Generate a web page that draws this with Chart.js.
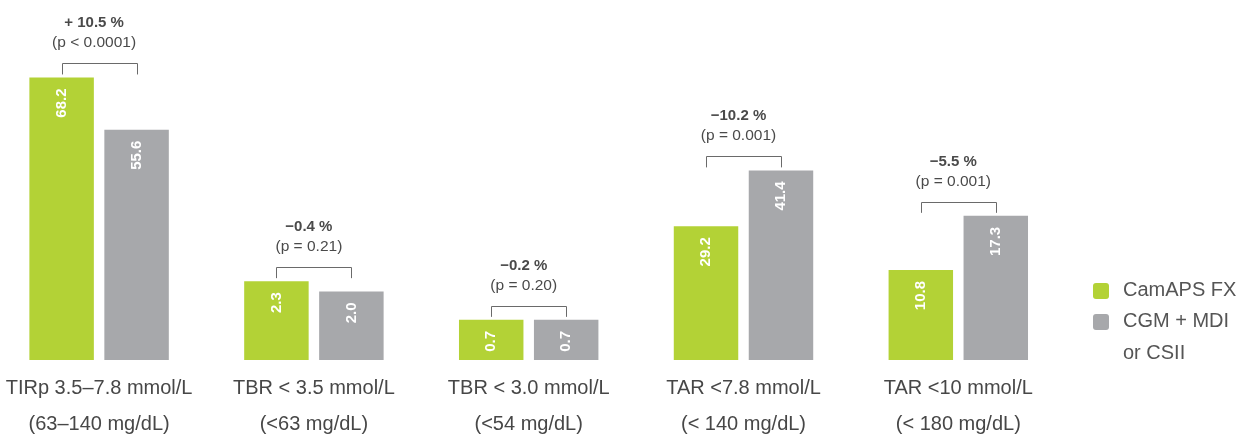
<!DOCTYPE html>
<html><head><meta charset="utf-8">
<script src="https://cdn.jsdelivr.net/npm/chart.js@4"></script>
<style>
html,body{margin:0;padding:0;background:#fff;overflow:hidden;width:1252px;height:437px;}
#wrap{position:absolute;left:-10px;top:0;width:1262px;height:452px;}
.leg{position:absolute;font-family:"Liberation Sans",Arial,sans-serif;font-size:20px;color:#555;line-height:20px;white-space:nowrap}
.sw{position:absolute;width:16px;height:16px;border-radius:3px}
</style></head><body>
<div id="wrap"><canvas id="c"></canvas></div>
<div class="sw" style="left:1093px;top:283px;background:#b3d236"></div>
<div class="leg" style="left:1123px;top:279px">CamAPS FX</div>
<div class="sw" style="left:1093px;top:314px;background:#a7a8ab"></div>
<div class="leg" style="left:1123px;top:310px">CGM + MDI</div>
<div class="leg" style="left:1123px;top:342px">or CSII</div>
<script>
const categories = [
  ["TIRp 3.5–7.8 mmol/L", "(63–140 mg/dL)"],
  ["TBR < 3.5 mmol/L", "(<63 mg/dL)"],
  ["TBR < 3.0 mmol/L", "(<54 mg/dL)"],
  ["TAR <7.8 mmol/L", "(< 140 mg/dL)"],
  ["TAR <10 mmol/L", "(< 180 mg/dL)"]
];
const seriesNames = ["CamAPS FX", "CGM + MDI or CSII"];
const camaps = [68.2, 2.3, 0.7, 29.2, 10.8];
const cgm = [55.6, 2.0, 0.7, 41.4, 17.3];
const diffs = ["+ 10.5 %", "−0.4 %", "−0.2 %", "−10.2 %", "−5.5 %"];
const pvals = ["(p < 0.0001)", "(p = 0.21)", "(p = 0.20)", "(p = 0.001)", "(p = 0.001)"];
// each panel uses its own (hidden) value axis, as in the original figure
const axisMax = [86.9, 10.5, 6.28, 78.6, 43.2];

const GREEN = "#b3d236", GRAY = "#a7a8ab";
const FONT = '"Liberation Sans", Arial, sans-serif';

const datasets = [];
const scales = {
  x: {
    offset: true,
    grid: {display: false, drawTicks: false},
    border: {display: false},
    ticks: {color: "#474747", font: {family: FONT, size: 20, lineHeight: 1.8}, padding: 10, maxRotation: 0, autoSkip: false}
  }
};
categories.forEach((c, g) => {
  const a = categories.map((_, i) => i === g ? camaps[i] : null);
  const b = categories.map((_, i) => i === g ? cgm[i] : null);
  datasets.push({label: seriesNames[0], data: a, backgroundColor: GREEN, yAxisID: "y" + g, skipNull: true});
  datasets.push({label: seriesNames[1], data: b, backgroundColor: GRAY, yAxisID: "y" + g, skipNull: true});
  scales["y" + g] = {display: false, min: 0, max: axisMax[g]};
});

const annot = {
  id: "annot",
  afterDatasetsDraw(chart) {
    const ctx = chart.ctx;
    categories.forEach((c, g) => {
      const e1 = chart.getDatasetMeta(2 * g).data[g];
      const e2 = chart.getDatasetMeta(2 * g + 1).data[g];
      const vals = [camaps[g], cgm[g]];
      [e1, e2].forEach((e, k) => {
        ctx.save();
        ctx.translate(e.x, e.y + 11);
        ctx.rotate(-Math.PI / 2);
        ctx.fillStyle = "#fff";
        ctx.font = "bold 15px " + FONT;
        ctx.textAlign = "right";
        ctx.textBaseline = "middle";
        ctx.fillText(vals[k].toFixed(1), 0, 0);
        ctx.restore();
      });
      const top = Math.min(e1.y, e2.y);
      const by = Math.round(top - 14) + 0.5;
      const x1 = Math.round(e1.x) + 0.5, x2 = Math.round(e2.x) + 0.5;
      ctx.save();
      ctx.strokeStyle = "#6a6a6a";
      ctx.lineWidth = 1;
      ctx.beginPath();
      ctx.moveTo(x1, top - 3);
      ctx.lineTo(x1, by);
      ctx.lineTo(x2, by);
      ctx.lineTo(x2, top - 3);
      ctx.stroke();
      const mx = (e1.x + e2.x) / 2 - 5;
      ctx.textAlign = "center";
      ctx.textBaseline = "middle";
      ctx.fillStyle = "#4a4a4a";
      ctx.font = "bold 15px " + FONT;
      ctx.fillText(diffs[g], mx, by - 41);
      ctx.font = "15.5px " + FONT;
      ctx.fillText(pvals[g], mx, by - 21);
      ctx.restore();
    });
  }
};

new Chart(document.getElementById("c"), {
  type: "bar",
  data: {labels: categories, datasets},
  options: {
    responsive: true,
    maintainAspectRatio: false,
    animation: false,
    categoryPercentage: 0.698,
    barPercentage: 0.86,
    layout: {padding: {left: 1.7, right: 186.3, top: 0, bottom: 0}},
    plugins: {legend: {display: false}, tooltip: {enabled: false}},
    scales
  },
  plugins: [annot]
});
</script>
</body></html>
